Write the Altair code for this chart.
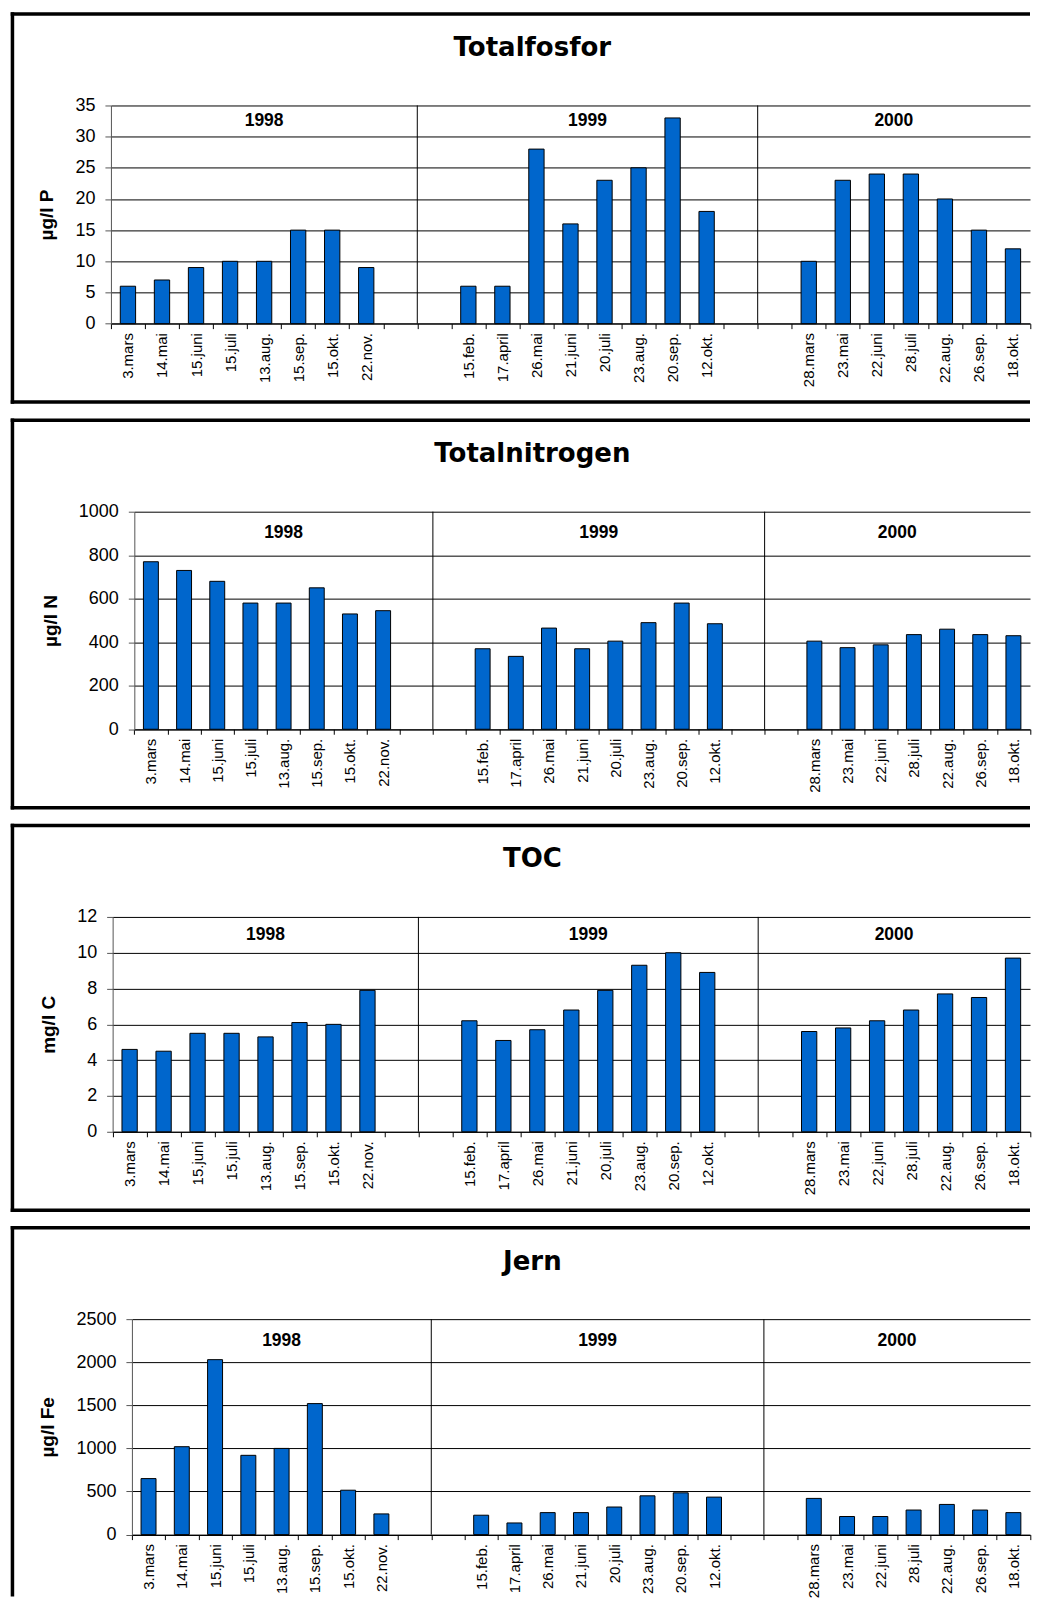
import altair as alt
import pandas as pd

# ---------------- data ----------------
DATES_1998 = ["3.mars", "14.mai", "15.juni", "15.juli", "13.aug.", "15.sep.", "15.okt.", "22.nov."]
DATES_1999 = ["15.feb.", "17.april", "26.mai", "21.juni", "20.juli", "23.aug.", "20.sep.", "12.okt."]
DATES_2000 = ["28.mars", "23.mai", "22.juni", "28.juli", "22.aug.", "26.sep.", "18.okt."]
YEARS = ["1998", "1999", "2000"]

TOTP_1998 = [6, 7, 9, 10, 10, 15, 15, 9]
TOTP_1999 = [6, 6, 28, 16, 23, 25, 33, 18]
TOTP_2000 = [10, 23, 24, 24, 20, 15, 12]

TOTN_1998 = [770, 730, 680, 580, 580, 650, 530, 545]
TOTN_1999 = [370, 335, 465, 370, 405, 490, 580, 485]
TOTN_2000 = [405, 375, 388, 435, 460, 435, 430]

TOC_1998 = [4.6, 4.5, 5.5, 5.5, 5.3, 6.1, 6.0, 7.9]
TOC_1999 = [6.2, 5.1, 5.7, 6.8, 7.9, 9.3, 10.0, 8.9]
TOC_2000 = [5.6, 5.8, 6.2, 6.8, 7.7, 7.5, 9.7]

FE_1998 = [650, 1020, 2030, 920, 1000, 1520, 515, 240]
FE_1999 = [225, 135, 255, 255, 320, 450, 485, 435]
FE_2000 = [420, 210, 210, 285, 350, 285, 255]

TITLES = ["Totalfosfor", "Totalnitrogen", "TOC", "Jern"]
YLABELS = ["µg/l P", "µg/l N", "mg/l C", "µg/l Fe"]
YMAX = [35, 1000, 12, 2500]
YSTEP = [5, 200, 2, 500]

# ---------------- layout (pixels) ----------------
FONT = "Liberation Sans"
TITLE_FONT = "DejaVu Sans"
BLUE = "#0066CC"
ORIGIN = 108.3                       # common group origin (page x)
PLOT_LEFT = [108.3, 131.7, 110.0, 129.3]  # where each panel's y axis sits (page x)
PLOT_RIGHT = 1028.0
W = PLOT_RIGHT - ORIGIN
PLOT_H = [218.3, 217.7, 215.0, 215.6]
FRAME_W = 3.5
FL = 9.75 - ORIGIN
FR = PLOT_RIGHT - ORIGIN
FT = -91.5

GAPS = [" ", "  ", "   ", "    "]
DOMAIN = DATES_1998 + GAPS[:2] + DATES_1999 + GAPS[2:] + DATES_2000

one = pd.DataFrame({"a": [0]})


def panel(i, vals, last=False):
    H = PLOT_H[i]
    off = PLOT_LEFT[i] - ORIGIN
    step = (W - off) / len(DOMAIN)
    ymax, ystep = YMAX[i], YSTEP[i]

    xscale = alt.Scale(domain=DOMAIN, range=[off, W], paddingInner=0, paddingOuter=0)
    xaxis = alt.Axis(title=None, labelAngle=-90, tickBand="extent",
                     tickSize=5, tickColor="black", domainColor="black",
                     labelFontSize=15, labelPadding=4, labelColor="black", labelFont=FONT,
                     grid=False, labelOverlap=False)
    X = alt.X("slot:N", scale=xscale, axis=xaxis)
    yscale = alt.Scale(domain=[0, ymax], nice=False)
    yaxis = alt.Axis(values=list(range(0, ymax + 1, ystep)), format="d", title=YLABELS[i],
                     offset=-off,
                     titleFont=FONT, titleFontSize=19, titleFontWeight="bold", titleColor="black",
                     titlePadding=18, labelFont=FONT, labelFontSize=18, labelColor="black",
                     labelPadding=10, tickSize=6, tickColor="#555", domainColor="#555",
                     grid=True, gridColor="#000")
    Y = alt.Y("v:Q", scale=yscale, axis=yaxis)

    bars_df = pd.DataFrame({"slot": DATES_1998 + DATES_1999 + DATES_2000, "v": vals})
    bars = alt.Chart(bars_df).mark_bar(width=alt.RelativeBandSize(band=0.45), fill=BLUE,
                                       stroke="black", strokeWidth=1).encode(x=X, y=Y)

    sep_df = pd.DataFrame({"slot": [GAPS[1], GAPS[3]], "v": [0, 0], "v2": [ymax, ymax]})
    seps = alt.Chart(sep_df).mark_rule(color="black", strokeWidth=1, xOffset=-step / 2).encode(
        x=X, y=Y, y2="v2:Q")

    ymid = ymax - ystep / 2
    yr1 = alt.Chart(pd.DataFrame({"slot": [DATES_1998[4]], "v": [ymid], "year": [YEARS[0]]})).mark_text(
        font=FONT, fontSize=17.5, fontWeight="bold", color="black", baseline="middle", align="center"
    ).encode(x=X, y=Y, text="year:N")
    yr23 = alt.Chart(pd.DataFrame({"slot": [DATES_1999[4], DATES_2000[3]], "v": [ymid, ymid],
                                   "year": YEARS[1:]})).mark_text(
        font=FONT, fontSize=17.5, fontWeight="bold", color="black", baseline="middle", align="center",
        xOffset=-step / 2
    ).encode(x=X, y=Y, text="year:N")

    fb = H + 78.5
    frame = [
        alt.Chart(one).mark_rule(color="black", strokeWidth=FRAME_W).encode(
            x=alt.value(FL - FRAME_W / 2), x2=alt.value(FR), y=alt.value(FT)),
    ]
    if last:
        frame.append(alt.Chart(one).mark_rule(color="black", strokeWidth=FRAME_W).encode(
            x=alt.value(FL), y=alt.value(FT - FRAME_W / 2), y2=alt.value(H + 62)))
    else:
        frame.append(alt.Chart(one).mark_rule(color="black", strokeWidth=FRAME_W).encode(
            x=alt.value(FL), y=alt.value(FT - FRAME_W / 2), y2=alt.value(fb + FRAME_W / 2)))
        frame.append(alt.Chart(one).mark_rule(color="black", strokeWidth=FRAME_W).encode(
            x=alt.value(FL - FRAME_W / 2), x2=alt.value(FR), y=alt.value(fb)))
    title = alt.Chart(one).mark_text(text=TITLES[i], font=TITLE_FONT, fontSize=26, fontWeight="bold",
                                     color="black", align="center", baseline="alphabetic").encode(
        x=alt.value(530 - ORIGIN), y=alt.value(-49.5))

    return alt.layer(bars, seps, yr1, yr23, title, *frame).properties(width=W, height=H)


p1 = panel(0, TOTP_1998 + TOTP_1999 + TOTP_2000)
p2 = panel(1, TOTN_1998 + TOTN_1999 + TOTN_2000)
p3 = panel(2, TOC_1998 + TOC_1999 + TOC_2000)
p4 = panel(3, FE_1998 + FE_1999 + FE_2000, last=True)

chart = alt.vconcat(p1, p2, p3, p4, spacing=10.5).properties(
    padding={"left": 0, "right": 0, "top": 2, "bottom": 0}
).configure_view(stroke=None)

chart.save("out.html", embed_options={"renderer": "svg", "actions": False})
